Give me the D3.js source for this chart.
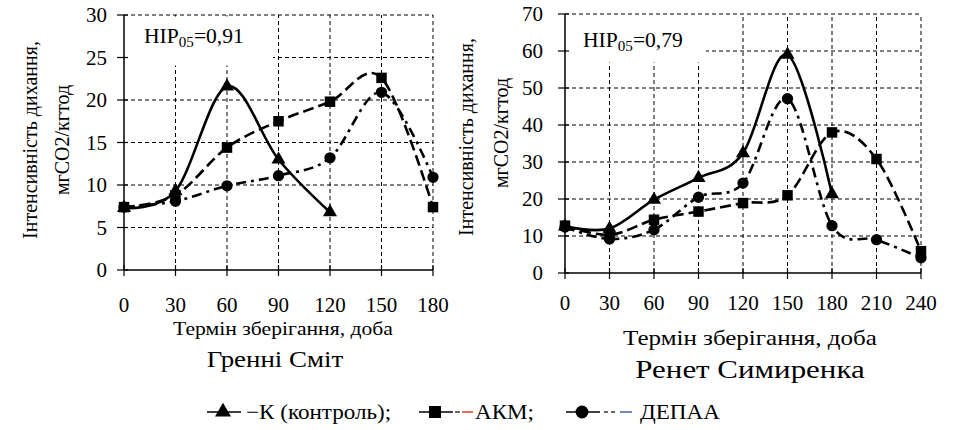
<!DOCTYPE html>
<html>
<head>
<meta charset="utf-8">
<script src="https://cdn.jsdelivr.net/npm/d3@7/dist/d3.min.js"></script>
<style>
  body { margin: 0; background: #fff; }
  svg { display: block; }
  svg text, svg tspan { font-family: "Liberation Serif", "Times New Roman" !important; }
</style>
</head>
<body>
<svg id="chart" width="957" height="430"></svg>
<script>
// Гренні Сміт
const gsDays = [0, 30, 60, 90, 120, 150, 180];
const gsK = [7.3, 9.3, 21.6, 13.0, 6.8];
const gsAkm = [7.4, 8.8, 14.4, 17.5, 19.8, 22.6, 7.4];
const gsDepaa = [7.4, 8.1, 9.9, 11.1, 13.2, 20.9, 10.9];
const gsYTicks = [0, 5, 10, 15, 20, 25, 30];

// Ренет Симиренка
const rsDays = [0, 30, 60, 90, 120, 150, 180, 210, 240];
const rsK = [12.6, 12.0, 19.8, 25.7, 32.4, 59.0, 21.3];
const rsAkm = [12.8, 10.3, 14.4, 16.6, 18.9, 21.0, 38.0, 30.8, 5.9];
const rsDepaa = [12.4, 9.2, 11.7, 20.5, 24.3, 47.1, 12.8, 9.0, 4.1];
const rsYTicks = [0, 10, 20, 30, 40, 50, 60, 70];

const yTitle = ['Інтенсивність дихання,', 'мгСО2/кгтод'];
const xTitle = 'Термін зберігання, доба';
const legendNames = ['−К (контроль);', 'АКМ;', 'ДЕПАА'];

const FONT = 'Liberation Serif';
const svg = d3.select('#chart').attr('font-family', FONT);

const seriesStyle = [
  { symbol: d3.symbolTriangle, size: 85, dash: null },
  { symbol: d3.symbolSquare, size: 110, dash: '11,5' },
  { symbol: d3.symbolCircle, size: 100, dash: '10,5,3,5' },
];

// text is a little wider in the original image, so allow a horizontal stretch
const addText = (sel, x, y, size, txt, anchor, sx) => {
  const t = sel.append('text')
    .attr('transform', `translate(${x},${y}) scale(${sx || 1},1)`)
    .attr('text-anchor', anchor || 'start')
    .attr('font-size', size)
    .attr('font-family', FONT)
    .style('font-family', `"${FONT}"`);
  if (txt !== null) t.text(txt);
  return t;
};

const drawPanel = (p) => {
  const x = d3.scaleLinear().domain([0, d3.max(p.days)]).range([p.left, p.right]);
  const y = d3.scaleLinear().domain([0, d3.max(p.yTicks)]).range([p.bottom, p.top]);
  const g = svg.append('g');

  // grid
  g.selectAll('.hgrid').data(p.yTicks.slice(1)).join('line')
    .attr('x1', p.left).attr('x2', p.right)
    .attr('y1', d => y(d)).attr('y2', d => y(d))
    .attr('stroke', '#000').attr('stroke-width', 1).attr('stroke-dasharray', '4,3');
  g.selectAll('.vgrid').data(p.days.slice(1)).join('line')
    .attr('x1', d => x(d)).attr('x2', d => x(d))
    .attr('y1', p.bottom).attr('y2', p.top)
    .attr('stroke', '#000').attr('stroke-width', 1).attr('stroke-dasharray', '4,3');

  // label box hides the grid behind it
  g.append('rect')
    .attr('x', p.left + 1).attr('y', p.top + 1.5)
    .attr('width', p.boxW).attr('height', p.boxH)
    .attr('fill', '#fff');
  const hip = addText(g, p.hipX, p.hipY, 20, null, 'start', 1.08);
  hip.append('tspan').text('НІР');
  hip.append('tspan').attr('font-size', 14).attr('dy', 4).text('05');
  hip.append('tspan').attr('dy', -4).text('=' + p.hip);

  // axes
  g.append('line')
    .attr('x1', p.left).attr('x2', p.left).attr('y1', p.top).attr('y2', p.bottom)
    .attr('stroke', '#000').attr('stroke-width', 1.5);
  g.append('line')
    .attr('x1', p.left).attr('x2', p.right).attr('y1', p.bottom).attr('y2', p.bottom)
    .attr('stroke', '#000').attr('stroke-width', 1.5);
  g.selectAll('.ytick').data(p.yTicks).join('line')
    .attr('x1', p.left - 7).attr('x2', p.left + 4)
    .attr('y1', d => y(d)).attr('y2', d => y(d))
    .attr('stroke', '#000').attr('stroke-width', 1.2);
  g.selectAll('.xtick').data(p.days).join('line')
    .attr('x1', d => x(d)).attr('x2', d => x(d))
    .attr('y1', p.bottom - 5).attr('y2', p.bottom + 6)
    .attr('stroke', '#000').attr('stroke-width', 1.2);
  p.yTicks.forEach(d => addText(g, p.left - p.yLabGap, y(d) + 7, 20, d, 'end', 1.05));
  p.days.forEach(d => addText(g, x(d), p.bottom + p.xLabGap, 20, d, 'middle', 1.05));

  // titles
  addText(g, p.xTitleX, p.xTitleY, p.xTitleSize, xTitle, 'middle', p.xTitleSx);
  addText(g, p.subX, p.subY, p.subSize, p.name, 'middle', p.subSx);
  yTitle.forEach((t, i) => {
    addText(g, 0, 0, 20, t, 'middle')
      .attr('transform', `translate(${p.yTitleX[i]},${p.yTitleY[i]}) rotate(-90)`);
  });

  // series
  const line = d3.line()
    .x((d, i) => x(p.days[i]))
    .y(d => y(d))
    .curve(d3.curveCardinal.tension(0));
  p.series.forEach((vals, s) => {
    g.append('path')
      .datum(vals)
      .attr('d', line)
      .attr('fill', 'none')
      .attr('stroke', '#000')
      .attr('stroke-width', 2.6)
      .attr('stroke-dasharray', seriesStyle[s].dash);
  });
  p.series.forEach((vals, s) => {
    g.selectAll(null).data(vals).join('path')
      .attr('transform', (d, i) => `translate(${x(p.days[i])},${y(d)})`)
      .attr('d', d3.symbol().type(seriesStyle[s].symbol).size(seriesStyle[s].size))
      .attr('fill', '#000');
  });
};

drawPanel({
  name: 'Гренні Сміт', days: gsDays, yTicks: gsYTicks,
  series: [gsK, gsAkm, gsDepaa], hip: '0,91',
  left: 124, right: 433, top: 15, bottom: 270,
  boxW: 148, boxH: 49, hipX: 144, hipY: 43,
  yLabGap: 17, xLabGap: 42,
  xTitleX: 283, xTitleY: 335, xTitleSize: 19, xTitleSx: 1.14,
  subX: 275, subY: 367, subSize: 23, subSx: 1.17,
  yTitleX: [37, 69], yTitleY: [140, 140],
});

drawPanel({
  name: 'Ренет Симиренка', days: rsDays, yTicks: rsYTicks,
  series: [rsK, rsAkm, rsDepaa], hip: '0,79',
  left: 565, right: 921, top: 14, bottom: 273,
  boxW: 140, boxH: 47, hipX: 583, hipY: 47,
  yLabGap: 22, xLabGap: 37,
  xTitleX: 750, xTitleY: 345, xTitleSize: 21, xTitleSx: 1.19,
  subX: 750, subY: 378, subSize: 26, subSx: 1.19,
  yTitleX: [473, 508], yTitleY: [137, 133],
});

// legend
const legendX = [223, 435, 582];
const legendTextX = [246, 475, 640];
const legendY = 412;
const lg = svg.append('g');
legendX.forEach((cx, s) => {
  lg.append('line')
    .attr('x1', cx - 16).attr('x2', cx + 18)
    .attr('y1', legendY).attr('y2', legendY)
    .attr('stroke', '#000').attr('stroke-width', 1.5);
  lg.append('path')
    .attr('transform', `translate(${cx},${legendY})`)
    .attr('d', d3.symbol().type(seriesStyle[s].symbol).size(seriesStyle[s].size * 1.3))
    .attr('fill', '#000');
  addText(lg, legendTextX[s], legendY + 7, 21, legendNames[s], 'start', 1.1);
});
// small coloured line swatches in the legend
lg.append('line').attr('x1', 455).attr('x2', 460).attr('y1', legendY).attr('y2', legendY)
  .attr('stroke', '#000').attr('stroke-width', 1.2);
lg.append('line').attr('x1', 462).attr('x2', 473).attr('y1', legendY).attr('y2', legendY)
  .attr('stroke', '#e00000').attr('stroke-width', 1.2);
lg.append('line').attr('x1', 604).attr('x2', 608).attr('y1', legendY).attr('y2', legendY)
  .attr('stroke', '#000').attr('stroke-width', 1.2);
lg.append('line').attr('x1', 611).attr('x2', 615).attr('y1', legendY).attr('y2', legendY)
  .attr('stroke', '#000').attr('stroke-width', 1.2);
lg.append('line').attr('x1', 620).attr('x2', 632).attr('y1', legendY).attr('y2', legendY)
  .attr('stroke', '#1f3a8a').attr('stroke-width', 1.2);
</script>
</body>
</html>
